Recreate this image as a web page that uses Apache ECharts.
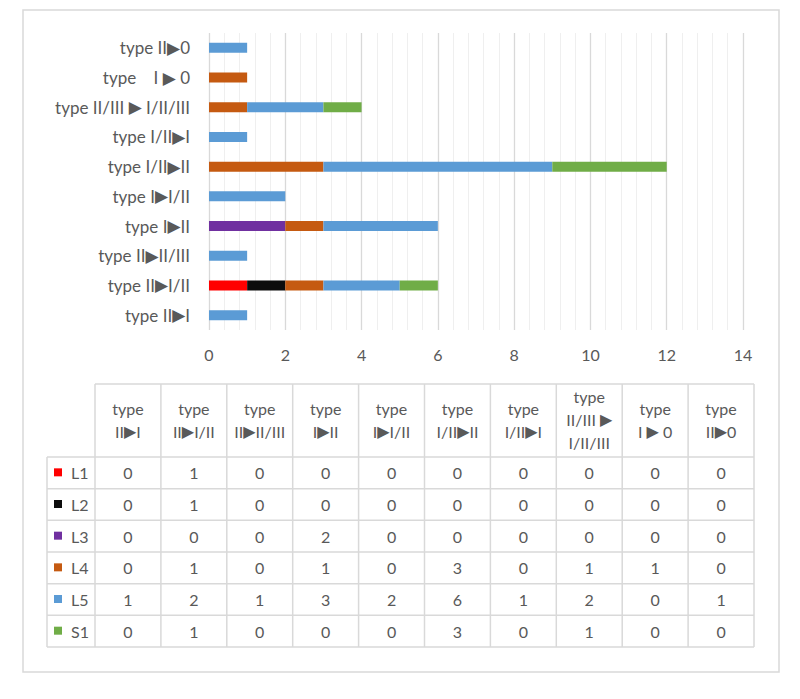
<!DOCTYPE html>
<html>
<head>
<meta charset="utf-8">
<script src="https://cdn.jsdelivr.net/npm/echarts@6/dist/echarts.min.js"></script>
<style>
html,body{margin:0;padding:0;background:#fff;}
#chart{width:800px;height:699px;}
</style>
</head>
<body>
<div id="chart"></div>
<script>
// Categories, bottom-to-top on the chart (same order as table columns)
const categories = [
  'type II\u25B6I',
  'type II\u25B6I/II',
  'type II\u25B6II/III',
  'type I\u25B6II',
  'type I\u25B6I/II',
  'type I/II\u25B6II',
  'type I/II\u25B6I',
  'type II/III \u25B6 I/II/III',
  'type \u00A0\u00A0\u00A0I \u25B6 0',
  'type II\u25B60'
];
const headerLabels = [
  'type\nII\u25B6I',
  'type\nII\u25B6I/II',
  'type\nII\u25B6II/III',
  'type\nI\u25B6II',
  'type\nI\u25B6I/II',
  'type\nI/II\u25B6II',
  'type\nI/II\u25B6I',
  'type\nII/III \u25B6\nI/II/III',
  'type\nI \u25B6 0',
  'type\nII\u25B60'
];
const seriesNames = ['L1', 'L2', 'L3', 'L4', 'L5', 'S1'];
const L1 = [0, 1, 0, 0, 0, 0, 0, 0, 0, 0];
const L2 = [0, 1, 0, 0, 0, 0, 0, 0, 0, 0];
const L3 = [0, 0, 0, 2, 0, 0, 0, 0, 0, 0];
const L4 = [0, 1, 0, 1, 0, 3, 0, 1, 1, 0];
const L5 = [1, 2, 1, 3, 2, 6, 1, 2, 0, 1];
const S1 = [0, 1, 0, 0, 0, 3, 0, 1, 0, 0];
const xTicks = [0, 2, 4, 6, 8, 10, 12, 14];

const seriesData = [L1, L2, L3, L4, L5, S1];
const colors = ['#ff0000', '#0d0d0d', '#7030a0', '#c55a11', '#5b9bd5', '#70ad47'];
const textColor = '#595959';
const fontFam = 'Lato, "DejaVu Sans", sans-serif';
const triRich = { t: { fontFamily: '"DejaVu Sans"', fontSize: 16, color: textColor, fill: textColor, lineHeight: 23 } };
const toRich = s => s.replace(/\u25B6/g, '{t|\u25B6}');

// Table layout
const T = {
  left: 47, legendW: 48, colW: 65.9, headTop: 384, headBottom: 457, rowH: 31.67
};
const colX0 = T.left + T.legendW;
const nCols = categories.length;
const tableRight = colX0 + nCols * T.colW;
const tableBottom = T.headBottom + seriesNames.length * T.rowH;
const lineStyle = { stroke: '#d9d9d9', lineWidth: 1.5 };

const graphics = [];
// outer border
graphics.push({ type: 'rect', shape: { x: 23, y: 10, width: 756, height: 662 },
  style: { fill: 'none', stroke: '#d9d9d9', lineWidth: 1.5 }, z: -1 });
// horizontal lines
graphics.push({ type: 'line', shape: { x1: colX0, y1: T.headTop, x2: tableRight, y2: T.headTop }, style: lineStyle });
for (let i = 0; i <= seriesNames.length; i++) {
  const y = T.headBottom + i * T.rowH;
  graphics.push({ type: 'line', shape: { x1: T.left, y1: y, x2: tableRight, y2: y }, style: lineStyle });
}
// vertical lines
graphics.push({ type: 'line', shape: { x1: T.left, y1: T.headBottom, x2: T.left, y2: tableBottom }, style: lineStyle });
for (let j = 0; j <= nCols; j++) {
  const x = colX0 + j * T.colW;
  graphics.push({ type: 'line', shape: { x1: x, y1: T.headTop, x2: x, y2: tableBottom }, style: lineStyle });
}
// header texts
headerLabels.forEach((h, j) => {
  graphics.push({ type: 'text', x: colX0 + (j + 0.5) * T.colW, y: (T.headTop + T.headBottom) / 2 - 1,
    style: { text: toRich(h), rich: triRich, fill: textColor, fontSize: 16, fontFamily: fontFam,
      align: 'center', verticalAlign: 'middle', lineHeight: 23 } });
});
// rows
seriesNames.forEach((name, i) => {
  const yc = T.headBottom + (i + 0.5) * T.rowH;
  graphics.push({ type: 'rect', shape: { x: 54, y: yc - 4.5, width: 8, height: 8 }, style: { fill: colors[i] } });
  graphics.push({ type: 'text', x: 71, y: yc,
    style: { text: name, fill: textColor, fontSize: 16, fontFamily: fontFam, align: 'left', verticalAlign: 'middle' } });
  seriesData[i].forEach((v, j) => {
    graphics.push({ type: 'text', x: colX0 + (j + 0.5) * T.colW, y: yc,
      style: { text: String(v), fill: textColor, fontSize: 16, fontFamily: fontFam, align: 'center', verticalAlign: 'middle' } });
  });
});

const chart = echarts.init(document.getElementById('chart'), null, { renderer: 'svg' });
chart.setOption({
  animation: false,
  backgroundColor: '#fff',
  grid: { left: 209, right: 57, top: 33, bottom: 369, containLabel: false },
  xAxis: {
    type: 'value', min: xTicks[0], max: xTicks[xTicks.length - 1], interval: 2,
    axisLine: { show: false }, axisTick: { show: false },
    axisLabel: { color: textColor, fontSize: 16, fontFamily: fontFam, margin: 16 },
    splitLine: { show: true, lineStyle: { color: '#d9d9d9', width: 1.3 } },
    minorTick: { show: false, splitNumber: 5 },
    minorSplitLine: { show: true, lineStyle: { color: '#efefef', width: 1 } }
  },
  yAxis: {
    type: 'category', data: categories,
    axisLine: { show: false }, axisTick: { show: false },
    axisLabel: { color: textColor, fontSize: 17, fontFamily: fontFam, margin: 19,
      formatter: v => toRich(v), rich: { t: { fontFamily: '"DejaVu Sans"', fontSize: 17, color: textColor } } }
  },
  series: seriesNames.map((n, i) => ({
    name: n, type: 'bar', stack: 'total', data: seriesData[i], barWidth: 10,
    itemStyle: { color: colors[i] }
  })),
  graphic: graphics
});
</script>
</body>
</html>
